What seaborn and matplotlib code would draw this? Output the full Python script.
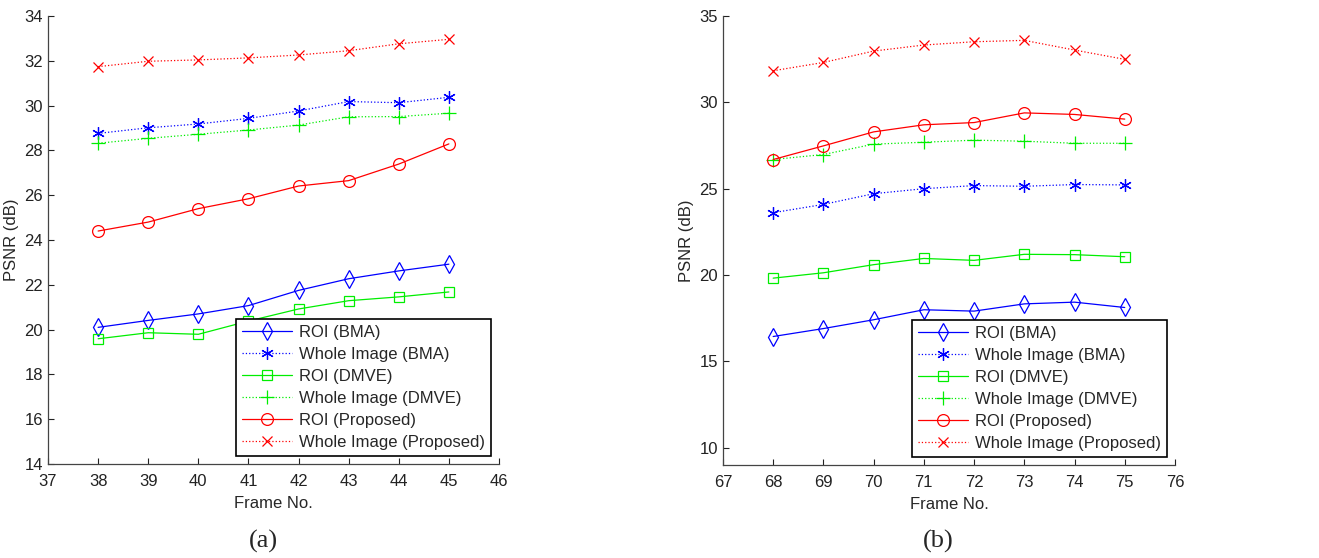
import numpy as np
import pandas as pd
import matplotlib
matplotlib.use("Agg")
import matplotlib.pyplot as plt
import seaborn as sns

# panel (a)
frames_a = [38, 39, 40, 41, 42, 43, 44, 45]
roi_bma_a = [20.10, 20.41, 20.70, 21.07, 21.75, 22.27, 22.62, 22.92]
whole_bma_a = [28.76, 29.01, 29.18, 29.43, 29.76, 30.18, 30.13, 30.37]
roi_dmve_a = [19.59, 19.86, 19.79, 20.38, 20.92, 21.29, 21.46, 21.68]
whole_dmve_a = [28.32, 28.54, 28.72, 28.91, 29.13, 29.50, 29.51, 29.66]
roi_prop_a = [24.40, 24.80, 25.40, 25.84, 26.41, 26.65, 27.39, 28.29]
whole_prop_a = [31.74, 31.98, 32.04, 32.13, 32.26, 32.45, 32.76, 32.96]

# panel (b)
frames_b = [68, 69, 70, 71, 72, 73, 74, 75]
roi_bma_b = [16.44, 16.90, 17.41, 17.99, 17.91, 18.33, 18.43, 18.12]
whole_bma_b = [23.61, 24.09, 24.71, 25.00, 25.18, 25.14, 25.24, 25.22]
roi_dmve_b = [19.82, 20.13, 20.60, 20.96, 20.85, 21.20, 21.18, 21.06]
whole_dmve_b = [26.69, 26.98, 27.58, 27.69, 27.81, 27.75, 27.63, 27.63]
roi_prop_b = [26.69, 27.48, 28.29, 28.70, 28.83, 29.39, 29.30, 29.03]
whole_prop_b = [31.83, 32.31, 32.97, 33.32, 33.51, 33.59, 33.03, 32.49]

labels = ["ROI (BMA)", "Whole Image (BMA)", "ROI (DMVE)",
          "Whole Image (DMVE)", "ROI (Proposed)", "Whole Image (Proposed)"]
styles = [
    dict(color="#0000ff", marker="d", ms=9, linestyle="-", fill=False),
    dict(color="#0000ff", marker=(6, 2, 0), ms=9, linestyle=":", fill=True),
    dict(color="#00ee00", marker="s", ms=6.5, linestyle="-", fill=False),
    dict(color="#00ee00", marker="+", ms=10, linestyle=":", fill=True),
    dict(color="#ff0000", marker="o", ms=8.5, linestyle="-", fill=False),
    dict(color="#ff0000", marker="x", ms=7, linestyle=":", fill=True),
]

sns.set_style("ticks")
plt.rcParams["font.family"] = ["Liberation Sans", "DejaVu Sans"]
plt.rcParams["xtick.direction"] = "in"
plt.rcParams["ytick.direction"] = "in"

fig = plt.figure(figsize=(13.19, 5.58), dpi=100)
ax_a = fig.add_axes([0.0364, 0.1685, 0.3419, 0.8028])
ax_b = fig.add_axes([0.5481, 0.1667, 0.3427, 0.8046])


def draw(ax, frames, series, xlim, ylim, yticks):
    for lab, vals, st in zip(labels, series, styles):
        df = pd.DataFrame({"Frame": frames, "PSNR": vals})
        sns.lineplot(data=df, x="Frame", y="PSNR", ax=ax, label=lab,
                     color=st["color"], marker=st["marker"], markersize=st["ms"],
                     linestyle=st["linestyle"], linewidth=0.9,
                     markerfacecolor=st["color"] if st["fill"] else "none",
                     markeredgecolor=st["color"], markeredgewidth=0.9)
    ax.set_xlim(*xlim)
    ax.set_ylim(*ylim)
    ax.set_xticks(range(xlim[0], xlim[1] + 1))
    ax.set_yticks(yticks)
    ax.tick_params(labelsize=12, length=4, width=0.8, colors="#222222")
    ax.tick_params(axis="x", pad=7)
    for s in ["top", "right"]:
        ax.spines[s].set_visible(False)
    for s in ["left", "bottom"]:
        ax.spines[s].set_linewidth(0.9)
        ax.spines[s].set_color("#444444")
    ax.set_xlabel("Frame No.", fontsize=12, labelpad=5)
    ax.set_ylabel("PSNR (dB)", fontsize=12, labelpad=4)
    leg = ax.legend(loc="lower right", fontsize=12, frameon=True, fancybox=False,
                    edgecolor="black", framealpha=1, handlelength=3.0,
                    borderaxespad=0.5, labelspacing=0.42, borderpad=0.35,
                    handletextpad=0.4)
    leg.get_frame().set_linewidth(1.2)


draw(ax_a, frames_a,
     [roi_bma_a, whole_bma_a, roi_dmve_a, whole_dmve_a, roi_prop_a, whole_prop_a],
     (37, 46), (14, 34), range(14, 35, 2))
draw(ax_b, frames_b,
     [roi_bma_b, whole_bma_b, roi_dmve_b, whole_dmve_b, roi_prop_b, whole_prop_b],
     (67, 76), (9, 35), range(10, 36, 5))

fig.text(0.1994, 0.03, "(a)", fontsize=19, ha="center", va="center",
         family=["Liberation Serif", "DejaVu Serif"])
fig.text(0.711, 0.03, "(b)", fontsize=19, ha="center", va="center",
         family=["Liberation Serif", "DejaVu Serif"])

fig.savefig("out.png", dpi=100)
